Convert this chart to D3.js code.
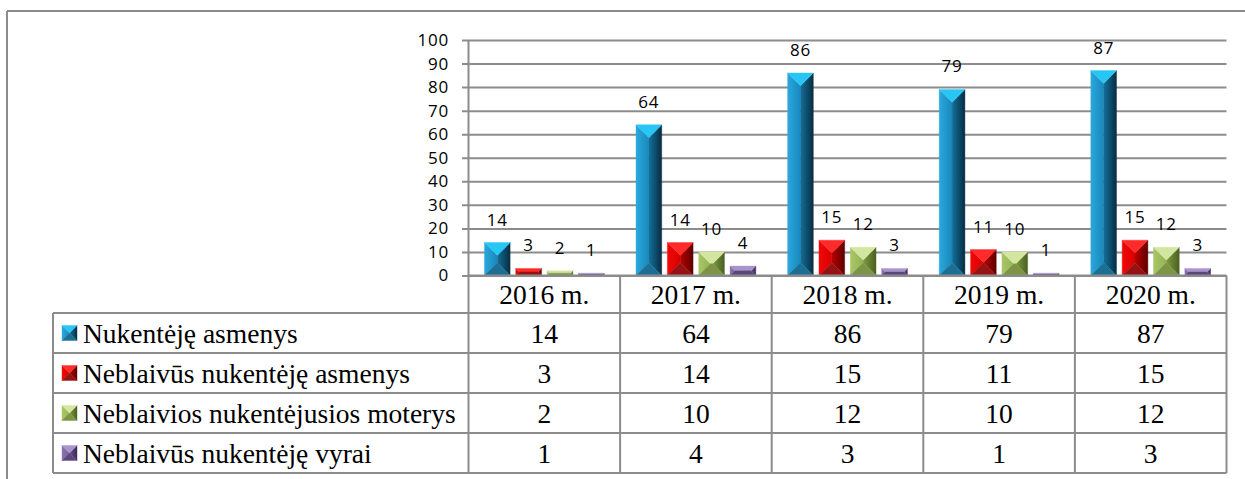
<!DOCTYPE html>
<html><head><meta charset="utf-8">
<script src="https://cdn.jsdelivr.net/npm/d3@7"></script>
<style>body{margin:0;background:#fff}svg{display:block}
.serif{font-family:"Liberation Serif","Times New Roman",Times,"DejaVu Serif",serif;font-size:27.5px}
.lab{font-family:"Open Sans",sans-serif;font-size:17px;letter-spacing:0.8px}
</style>
</head><body><svg id="c" width="1245" height="479"></svg>
<script>
const categories = ["2016 m.","2017 m.","2018 m.","2019 m.","2020 m."];
const seriesNames = ["Nukentėję asmenys","Neblaivūs nukentėję asmenys","Neblaivios nukentėjusios moterys","Neblaivūs nukentėję vyrai"];
const nukenteje = [14,64,86,79,87];
const neblaivusNukenteje = [3,14,15,11,15];
const neblaiviosMoterys = [2,10,12,10,12];
const neblaivusVyrai = [1,4,3,1,3];
const seriesValues = [nukenteje, neblaivusNukenteje, neblaiviosMoterys, neblaivusVyrai];
const yTicks = [0,10,20,30,40,50,60,70,80,90,100];

const palettes = [
  {top:"#27c6f5", l0:"#2ba8dc", l1:"#1788bc", r0:"#146f9b", r1:"#072d42", bottom:"#1b6e94"},
  {top:"#ff2a2a", l0:"#f20808", l1:"#d80000", r0:"#b80000", r1:"#5e0000", bottom:"#971212"},
  {top:"#d3e6a0", l0:"#a9c666", l1:"#94b453", r0:"#7d9a40", r1:"#4a6021", bottom:"#7c9444"},
  {top:"#a995cb", l0:"#8c71b0", l1:"#7b609d", r0:"#66508a", r1:"#3a2a52", bottom:"#5b477e"}
];
const gridColor = "#8c8c8c";

const svg = d3.select("#c");
const defs = svg.append("defs");
palettes.forEach((p,i)=>{
  const gl = defs.append("linearGradient").attr("id","gl"+i).attr("x1",0).attr("x2",1).attr("y1",0).attr("y2",0);
  gl.append("stop").attr("offset",0).attr("stop-color",p.l0);
  gl.append("stop").attr("offset",1).attr("stop-color",p.l1);
  const gr = defs.append("linearGradient").attr("id","gr"+i).attr("x1",0).attr("x2",1).attr("y1",0).attr("y2",0);
  gr.append("stop").attr("offset",0).attr("stop-color",p.r0);
  gr.append("stop").attr("offset",1).attr("stop-color",p.r1);
});

// outer frame
svg.append("line").attr("x1",7).attr("x2",1245).attr("y1",11).attr("y2",11).attr("stroke",gridColor).attr("stroke-width",2);
svg.append("line").attr("x1",7).attr("x2",7).attr("y1",11).attr("y2",479).attr("stroke",gridColor).attr("stroke-width",2);

const x = d3.scaleBand().domain(categories).range([468.5,1226.5]).padding(0);
const y = d3.scaleLinear().domain([0,100]).range([275.5,40]);
const groupW = x.bandwidth()*0.79;
const x1 = d3.scaleBand().domain(d3.range(seriesNames.length)).range([0,groupW]).paddingInner(0.18);
const groupOff = (x.bandwidth()-groupW)/2;

// grid + y axis
const axis = d3.axisLeft(y).tickValues(yTicks).tickSize(-(1226.5-462)).tickPadding(13).tickFormat(d3.format("d"));
const ag = svg.append("g").attr("transform","translate(462,0)").call(axis);
ag.attr("font-family",null).attr("font-size",null);
ag.select(".domain").remove();
ag.selectAll(".tick line").attr("stroke",gridColor).attr("stroke-width",2);
ag.selectAll(".tick text").attr("fill","#000").attr("class","lab");

function bevel(g, bx, by, w, h, i){
  const p = palettes[i];
  const d = Math.min(w/2, h/2);
  const pts = {
    top:[[bx,by],[bx+w,by],[bx+w-d,by+d],[bx+d,by+d]],
    bottom:[[bx,by+h],[bx+w,by+h],[bx+w-d,by+h-d],[bx+d,by+h-d]],
    left:[[bx,by],[bx+d,by+d],[bx+d,by+h-d],[bx,by+h]],
    right:[[bx+w,by],[bx+w-d,by+d],[bx+w-d,by+h-d],[bx+w,by+h]]
  };
  const fills = {top:p.top, bottom:p.bottom, left:"url(#gl"+i+")", right:"url(#gr"+i+")"};
  ["left","right","top","bottom"].forEach(k=>{
    g.append("polygon").attr("points",pts[k].map(q=>q.join(",")).join(" "))
      .attr("fill",fills[k]).attr("stroke",fills[k]).attr("stroke-width",0.4);
  });
}

// bars
const barsG = svg.append("g");
categories.forEach((c,ci)=>{
  seriesValues.forEach((vals,si)=>{
    const v = vals[ci];
    const bx = x(c)+groupOff+x1(si);
    const w = x1.bandwidth();
    const by = y(v);
    const h = y(0)-y(v);
    bevel(barsG, bx, by, w, h, si);
    svg.append("text").attr("x",bx+w/2).attr("y",by-17).attr("text-anchor","middle")
      .attr("class","lab").attr("fill","#000").text(v);
  });
});

// table
const tableLeft = 53, tableRight = 1226.5, headerTop = 275.5, headerBottom = 313;
const rowY = d3.scaleBand().domain(seriesNames).range([313,473]);
const tg = svg.append("g");
const line = (x1_,y1_,x2_,y2_)=>tg.append("line").attr("x1",x1_).attr("y1",y1_).attr("x2",x2_).attr("y2",y2_).attr("stroke",gridColor).attr("stroke-width",2);
line(468.5, headerTop, tableRight, headerTop);
seriesNames.forEach(s=>line(tableLeft, rowY(s), tableRight, rowY(s)));
line(tableLeft, 473, tableRight, 473);
line(tableLeft, 313, tableLeft, 473);
line(468.5, y(100), 468.5, 473);
categories.forEach(c=>line(x(c)+x.bandwidth(), headerTop, x(c)+x.bandwidth(), 473));

categories.forEach(c=>{
  tg.append("text").attr("x",x(c)+x.bandwidth()/2).attr("y",(headerTop+headerBottom)/2+10)
    .attr("text-anchor","middle").attr("class","serif").text(c);
});
seriesNames.forEach((s,si)=>{
  const cy = rowY(s)+rowY.bandwidth()/2;
  bevel(tg, 62, cy-7.5, 15, 15, si);
  tg.append("text").attr("x",83).attr("y",cy+10).attr("class","serif").text(s);
  categories.forEach((c,ci)=>{
    tg.append("text").attr("x",x(c)+x.bandwidth()/2).attr("y",cy+10).attr("text-anchor","middle")
      .attr("class","serif").text(seriesValues[si][ci]);
  });
});
</script></body></html>
